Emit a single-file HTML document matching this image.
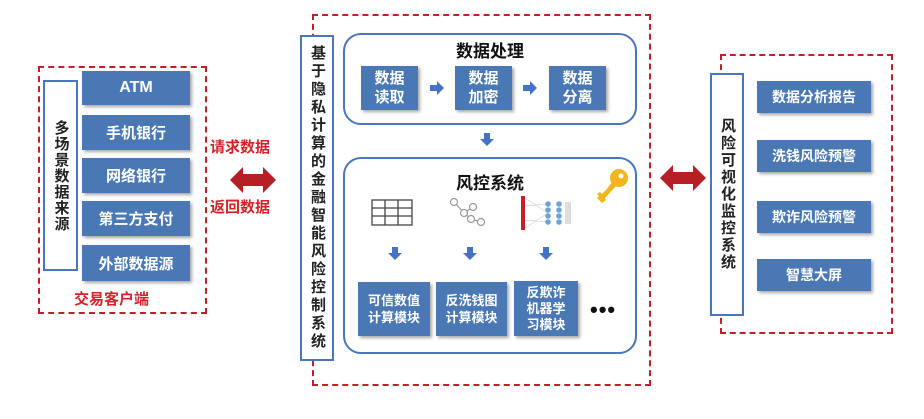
<!DOCTYPE html>
<html><head><meta charset="utf-8"><style>
body{margin:0;width:924px;height:419px;background:#fff;position:relative;overflow:hidden;font-family:"Liberation Sans","Noto Sans CJK SC",sans-serif;font-weight:bold}
.a{position:absolute;box-sizing:border-box}
.dash{border:2px dashed #c0202a}
.vb{border:2px solid #4a76bd;background:#fff;color:#222;text-align:center;font-size:15px;display:flex;align-items:center;justify-content:center;writing-mode:vertical-rl;text-orientation:upright;letter-spacing:1px}
.bb{background:#4a78b5;color:#fff;display:flex;align-items:center;justify-content:center;text-align:center;box-shadow:2px 2px 3px rgba(0,0,0,.35)}
.rd{color:#d8202a;font-size:15px}
.rb{border:2px solid #4a76bd;border-radius:18px}
</style></head><body>
<!-- left -->
<div class="a dash" style="left:38px;top:66px;width:169px;height:248px"></div>
<div class="a vb" style="left:43px;top:80px;width:35px;height:191px;line-height:30px">多场景数据来源</div>
<div class="a bb" style="left:82px;top:71px;width:108px;height:34px;font-size:16px">ATM</div>
<div class="a bb" style="left:82px;top:115px;width:108px;height:35px;font-size:15px">手机银行</div>
<div class="a bb" style="left:82px;top:158px;width:108px;height:35px;font-size:15px">网络银行</div>
<div class="a bb" style="left:82px;top:201px;width:108px;height:35px;font-size:15px">第三方支付</div>
<div class="a bb" style="left:82px;top:245px;width:108px;height:36px;font-size:15px">外部数据源</div>
<div class="a rd" style="left:74px;top:288px;font-size:15px">交易客户端</div>
<div class="a rd" style="left:210px;top:136px">请求数据</div>
<div class="a rd" style="left:210px;top:196px">返回数据</div>
<svg class="a" style="left:230px;top:166px" width="46" height="28"><polygon points="0,14 13,1 13,8 33,8 33,1 46,14 33,27 33,20 13,20 13,27" fill="#b81e25"/></svg>
<!-- middle -->
<div class="a dash" style="left:312px;top:14px;width:339px;height:372px"></div>
<div class="a vb" style="left:300px;top:35px;width:34px;height:326px;line-height:30px;font-size:15px;letter-spacing:3px">基于隐私计算的金融智能风险控制系统</div>
<div class="a rb" style="left:343px;top:33px;width:294px;height:92px"></div>
<div class="a" style="left:343px;top:37px;width:294px;text-align:center;font-size:17px;color:#111">数据处理</div>
<div class="a bb" style="left:361px;top:66px;width:57px;height:44px;font-size:15px;line-height:19px">数据<br>读取</div>
<div class="a bb" style="left:455px;top:66px;width:57px;height:44px;font-size:15px;line-height:19px">数据<br>加密</div>
<div class="a bb" style="left:549px;top:66px;width:57px;height:44px;font-size:15px;line-height:19px">数据<br>分离</div>
<svg class="a" style="left:430px;top:81px" width="14" height="14"><polygon points="0,4 7,4 7,0 14,7 7,14 7,10 0,10" fill="#4472c4"/></svg>
<svg class="a" style="left:523px;top:81px" width="14" height="14"><polygon points="0,4 7,4 7,0 14,7 7,14 7,10 0,10" fill="#4472c4"/></svg>
<svg class="a" style="left:480px;top:133px" width="14" height="13"><polygon points="4,0 10,0 10,6 14,6 7,13 0,6 4,6" fill="#4472c4"/></svg>
<div class="a rb" style="left:343px;top:157px;width:294px;height:197px"></div>
<div class="a" style="left:343px;top:169px;width:294px;text-align:center;font-size:17px;color:#111">风控系统</div>
<svg class="a" style="left:371px;top:199px" width="42" height="27"><g stroke="#444" stroke-width="1.3" fill="none"><rect x="1" y="1" width="40" height="25"/><line x1="1" y1="9" x2="41" y2="9"/><line x1="1" y1="17" x2="41" y2="17"/><line x1="14" y1="1" x2="14" y2="26"/><line x1="27" y1="1" x2="27" y2="26"/></g></svg>
<svg class="a" style="left:449px;top:197px" width="38" height="30"><g stroke="#999" fill="#fff" stroke-width="1.2"><line x1="5" y1="5" x2="15" y2="16"/><line x1="15" y1="16" x2="24" y2="10"/><line x1="15" y1="16" x2="22" y2="22"/><line x1="22" y1="22" x2="32" y2="25"/><circle cx="5" cy="5" r="3.5"/><circle cx="15" cy="16" r="3.5"/><circle cx="24" cy="10" r="3.5"/><circle cx="22" cy="22" r="3.5"/><circle cx="32" cy="25" r="3.5"/></g></svg>
<svg class="a" style="left:521px;top:196px" width="52" height="34"><rect x="0" y="0" width="4" height="34" fill="#c8202a"/><g stroke="#bbb" stroke-width="0.5"><line x1="4" y1="2" x2="27" y2="17"/><line x1="4" y1="32" x2="27" y2="17"/><line x1="4" y1="10" x2="27" y2="8"/><line x1="4" y1="24" x2="27" y2="26"/></g><g fill="#6fa3d6"><circle cx="27" cy="8" r="2.8"/><circle cx="27" cy="14" r="2.8"/><circle cx="27" cy="20" r="2.8"/><circle cx="27" cy="26" r="2.8"/><circle cx="38" cy="8" r="2.8"/><circle cx="38" cy="14" r="2.8"/><circle cx="38" cy="20" r="2.8"/><circle cx="38" cy="26" r="2.8"/></g><rect x="44" y="6" width="6" height="22" fill="#ddd"/></svg>
<svg class="a" style="left:597px;top:168px" width="32" height="36"><circle cx="22" cy="10" r="9" fill="#f2b61c"/><circle cx="24" cy="8" r="2.5" fill="#fff"/><polygon points="15,14 19,18 8,30 9,32 5,35 0,30 2,28 0,26 3,24 5,26 9,22" fill="#f2b61c"/></svg>
<svg class="a" style="left:388px;top:247px" width="14" height="13"><polygon points="4,0 10,0 10,6 14,6 7,13 0,6 4,6" fill="#4472c4"/></svg>
<svg class="a" style="left:463px;top:247px" width="14" height="13"><polygon points="4,0 10,0 10,6 14,6 7,13 0,6 4,6" fill="#4472c4"/></svg>
<svg class="a" style="left:539px;top:247px" width="14" height="13"><polygon points="4,0 10,0 10,6 14,6 7,13 0,6 4,6" fill="#4472c4"/></svg>
<div class="a bb" style="left:358px;top:282px;width:72px;height:54px;font-size:13px;line-height:17px">可信数值<br>计算模块</div>
<div class="a bb" style="left:436px;top:282px;width:71px;height:54px;font-size:13px;line-height:17px">反洗钱图<br>计算模块</div>
<div class="a bb" style="left:514px;top:281px;width:64px;height:55px;font-size:13px;line-height:16px">反欺诈<br>机器学<br>习模块</div>
<div class="a" style="left:590px;top:297px;font-size:22px;color:#111;letter-spacing:1px">•••</div>
<!-- right -->
<svg class="a" style="left:660px;top:164px" width="46" height="28"><polygon points="0,14 13,1 13,8 33,8 33,1 46,14 33,27 33,20 13,20 13,27" fill="#b81e25"/></svg>
<div class="a dash" style="left:720px;top:54px;width:173px;height:280px"></div>
<div class="a vb" style="left:710px;top:73px;width:34px;height:243px;line-height:30px;letter-spacing:2px">风险可视化监控系统</div>
<div class="a bb" style="left:757px;top:81px;width:114px;height:32px;font-size:14px">数据分析报告</div>
<div class="a bb" style="left:757px;top:140px;width:114px;height:32px;font-size:14px">洗钱风险预警</div>
<div class="a bb" style="left:757px;top:201px;width:114px;height:32px;font-size:14px">欺诈风险预警</div>
<div class="a bb" style="left:757px;top:259px;width:114px;height:32px;font-size:14px">智慧大屏</div>
</body></html>
